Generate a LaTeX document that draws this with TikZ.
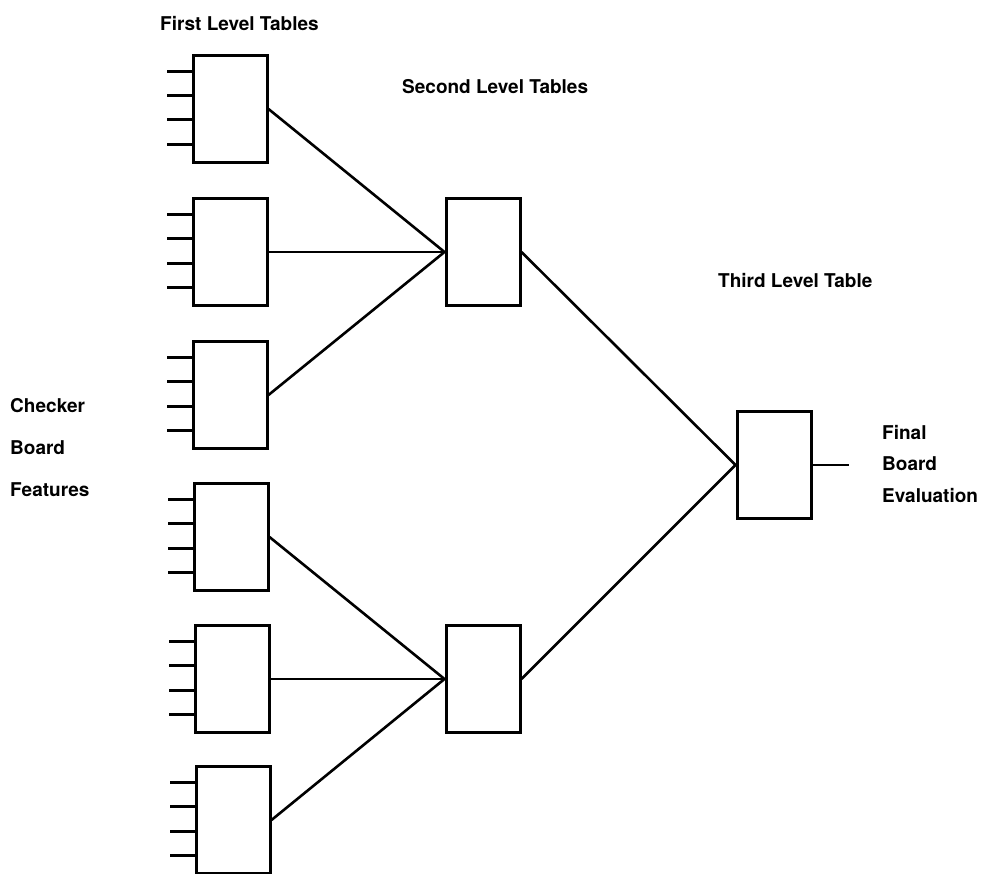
\documentclass[tikz,border=0pt]{standalone}
\usepackage{fontspec}
\setmainfont{TeX Gyre Heros}
\usetikzlibrary{calc}

\begin{document}
\begin{tikzpicture}[x=1pt,y=-1pt,
  tbox/.style={rectangle,
               draw,
               line width = 3pt,
               minimum width = 74pt,
               minimum height = 107pt},
  txt/.style={anchor = west,
              inner sep = 0pt,
              font = \bfseries\fontsize{19}{22}\selectfont}]

  \useasboundingbox (0,0) rectangle (981,874);

  % first level
  \node[tbox] (t1) at (230,109) {};
  \node[tbox] (t2) at (230,252) {};
  \node[tbox] (t3) at (230,395) {};
  \node[tbox] (t4) at (231,537) {};
  \node[tbox] (t5) at (232,679) {};
  \node[tbox] (t6) at (233,820) {};

  % second level
  \node[tbox] (s1) at (483,252) {};
  \node[tbox] (s2) at (483,679) {};

  % third level
  \node[tbox] (fin) at (774,465) {};
  \coordinate (out) at (849,465);

  % feature inputs
  \foreach \t in {t1,t2,t3,t4,t5,t6}
    \foreach \f in {0.16,0.38,0.6,0.82}
      \draw[line width=3pt] ($(\t.north west)!\f!(\t.south west)$) -- ++(-25,0);

  \path[line width=2.6pt]
  (t1.east) edge [] (s1.west)
  (t2.east) edge [] (s1.west)
  (t3.east) edge [] (s1.west)
  (t4.east) edge [] (s2.west)
  (t5.east) edge [] (s2.west)
  (t6.east) edge [] (s2.west)
  (s1.east) edge [] (fin.west)
  (s2.east) edge [] (fin.west)
  (fin.east) edge [] (out);

  \node[txt] (lab1) at (160,24) {First Level Tables};
  \node[txt] (lab2) at (402,87) {Second Level Tables};
  \node[txt] (lab3) at (718,281) {Third Level Table};
  \node[txt] (fin1) at (882,433) {Final};
  \node[txt] (fin2) at (882,464) {Board};
  \node[txt] (fin3) at (882,496) {Evaluation};
  \node[txt] (chk1) at (10,406) {Checker};
  \node[txt] (chk2) at (10,448) {Board};
  \node[txt] (chk3) at (10,490) {Features};

\end{tikzpicture}
\end{document}
